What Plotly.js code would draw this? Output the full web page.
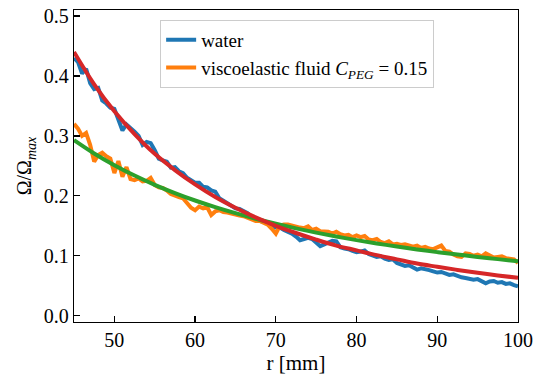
<!DOCTYPE html>
<html><head><meta charset="utf-8">
<script src="https://cdn.plot.ly/plotly-3.0.1.min.js"></script>
<style>html,body{margin:0;padding:0;background:#fff}#chart{width:541px;height:378px}</style>
</head><body><div id="chart"></div>
<script>
// radius grid (mm) for measured data, 0.5 mm steps
const r = [];
for (let i = 0; i <= 110; i++) r.push(45 + i * 0.5);

const water = [
0.430,0.423,0.404,0.412,0.388,0.378,0.380,0.359,0.354,0.347,
0.345,0.325,0.309,0.319,0.314,0.307,0.300,0.285,0.290,0.288,
0.276,0.262,0.259,0.257,0.247,0.248,0.241,0.238,0.230,0.226,
0.222,0.222,0.215,0.214,0.209,0.207,0.196,0.192,0.187,0.184,
0.179,0.178,0.175,0.171,0.165,0.160,0.158,0.157,0.154,0.149,
0.147,0.147,0.143,0.140,0.137,0.132,0.126,0.128,0.130,0.128,
0.123,0.116,0.119,0.122,0.125,0.124,0.114,0.112,0.111,0.108,
0.106,0.107,0.109,0.103,0.100,0.098,0.099,0.095,0.093,0.094,
0.088,0.086,0.083,0.084,0.081,0.077,0.079,0.078,0.076,0.074,
0.072,0.073,0.070,0.068,0.069,0.066,0.064,0.063,0.062,0.060,
0.061,0.058,0.054,0.057,0.058,0.055,0.056,0.053,0.054,0.051,
0.049];

const visco = [
0.320,0.312,0.300,0.305,0.285,0.257,0.268,0.272,0.266,0.262,
0.238,0.258,0.232,0.248,0.228,0.226,0.229,0.224,0.225,0.230,
0.218,0.214,0.213,0.209,0.203,0.200,0.198,0.196,0.188,0.180,
0.176,0.182,0.179,0.181,0.168,0.174,0.176,0.173,0.172,0.170,
0.168,0.167,0.166,0.163,0.160,0.158,0.158,0.155,0.152,0.145,
0.137,0.150,0.152,0.152,0.150,0.148,0.147,0.146,0.149,0.143,
0.145,0.141,0.141,0.140,0.137,0.140,0.136,0.134,0.135,0.131,
0.134,0.131,0.133,0.127,0.126,0.128,0.123,0.121,0.124,0.119,
0.120,0.118,0.119,0.117,0.115,0.117,0.113,0.115,0.112,0.111,
0.114,0.117,0.108,0.107,0.102,0.099,0.098,0.104,0.103,0.100,
0.102,0.099,0.104,0.101,0.097,0.098,0.099,0.096,0.095,0.094,
0.088];

// fitted curves, 2.5 mm steps
const rFit = [45,47.5,50,52.5,55,57.5,60,62.5,65,67.5,70,72.5,75,77.5,80,82.5,85,87.5,90,92.5,95,97.5,100];
const waterFit = [0.440,0.386,0.341,0.303,0.270,0.243,0.219,0.198,0.180,0.164,0.150,0.138,0.127,0.117,0.109,0.101,0.094,0.087,0.0816,0.0764,0.0716,0.0672,0.0632];
const viscoFit = [0.293,0.2707,0.2511,0.2338,0.2184,0.2046,0.1922,0.1811,0.1710,0.1618,0.1534,0.1457,0.1386,0.1321,0.1261,0.1206,0.1154,0.1106,0.1061,0.1020,0.0980,0.0944,0.0909];

const xTicks = [50,60,70,80,90,100];
const yTicks = [0.0,0.1,0.2,0.3,0.4,0.5];

const F = 'Times New Roman, serif';
const traces = [
  {x: r, y: water, mode: 'lines', name: 'water', line: {color: '#1f77b4', width: 4}},
  {x: r, y: visco, mode: 'lines', name: 'viscoelastic fluid <i>C</i><sub><i>PEG</i></sub> = 0.15', line: {color: '#ff7f0e', width: 4}},
  {x: rFit, y: viscoFit, mode: 'lines', line: {color: '#2ca02c', width: 4, shape: 'spline'}, showlegend: false},
  {x: rFit, y: waterFit, mode: 'lines', line: {color: '#d62728', width: 4, shape: 'spline'}, showlegend: false}
];

const layout = {
  width: 541, height: 378,
  margin: {l: 74, r: 23, t: 10, b: 56},
  paper_bgcolor: '#fff', plot_bgcolor: '#fff',
  font: {family: F, size: 20, color: '#000'},
  showlegend: true,
  legend: {x: 0.194, y: 0.968, xanchor: 'left', yanchor: 'top',
    bgcolor: 'rgba(255,255,255,0.8)', bordercolor: '#cccccc', borderwidth: 1,
    font: {family: F, size: 19, color: '#000'}, tracegroupgap: 0},
  xaxis: {range: [45, 100], tickvals: xTicks, ticktext: xTicks.map(String),
    ticks: 'inside', ticklen: 6, tickwidth: 1.3, tickcolor: '#000',
    showline: true, linecolor: '#000', linewidth: 1.3, mirror: true,
    showgrid: false, zeroline: false,
    tickfont: {family: F, size: 20, color: '#000'},
    title: {text: 'r [mm]', font: {family: F, size: 21, color: '#000'}, standoff: 4}},
  yaxis: {range: [-0.0105, 0.51], tickvals: yTicks, ticktext: yTicks.map(v => v.toFixed(1)),
    ticks: 'inside', ticklen: 6, tickwidth: 1.3, tickcolor: '#000',
    showline: true, linecolor: '#000', linewidth: 1.3, mirror: true,
    showgrid: false, zeroline: false,
    tickfont: {family: F, size: 20, color: '#000'},
    title: {text: 'Ω/Ω<sub><i>max</i></sub>', font: {family: F, size: 20, color: '#000'}, standoff: 6}}
};

Plotly.newPlot('chart', traces, layout, {displayModeBar: false, staticPlot: true});
</script></body></html>
